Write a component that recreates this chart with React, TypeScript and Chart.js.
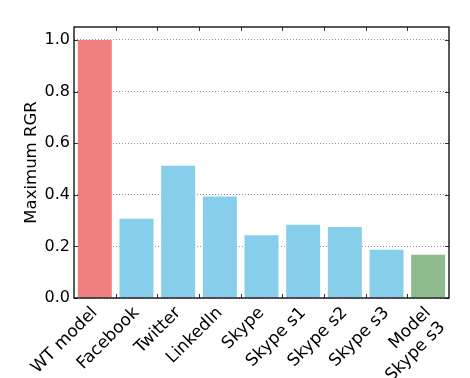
import React, { useEffect, useRef } from "react";
import { Chart, registerables } from "chart.js";

Chart.register(...registerables);

const categories: (string | string[])[] = [
  "WT model",
  "Facebook",
  "Twitter",
  "LinkedIn",
  "Skype",
  "Skype s1",
  "Skype s2",
  "Skype s3",
  ["Model", "Skype s3"],
];
const values = [1.0, 0.307, 0.512, 0.393, 0.243, 0.284, 0.275, 0.187, 0.168];
const barColors = [
  "#F08080",
  "#87CEEB",
  "#87CEEB",
  "#87CEEB",
  "#87CEEB",
  "#87CEEB",
  "#87CEEB",
  "#87CEEB",
  "#8FBC8F",
];
const yTicks = [0, 0.2, 0.4, 0.6, 0.8, 1.0];
const yMax = 1.05;
const yTitle = "Maximum RGR";

const FONT = "'DejaVu Sans', sans-serif";

const boxPlugin = {
  id: "boxPlugin",
  afterDraw(chart: any) {
    const { ctx, chartArea } = chart;
    const { left, right, top, bottom } = chartArea;
    const xs = chart.scales.x;
    const ys = chart.scales.y;
    ctx.save();
    ctx.strokeStyle = "#333";
    ctx.lineWidth = 1;
    const L = 4;
    ctx.beginPath();
    for (let i = 0; i < categories.length - 1; i++) {
      const px = Math.round((xs.getPixelForValue(i) + xs.getPixelForValue(i + 1)) / 2) + 0.5;
      ctx.moveTo(px, bottom);
      ctx.lineTo(px, bottom - L);
      ctx.moveTo(px, top);
      ctx.lineTo(px, top + L);
    }
    for (const t of yTicks) {
      const py = Math.round(ys.getPixelForValue(t)) + 0.5;
      ctx.moveTo(left, py);
      ctx.lineTo(left + L, py);
      ctx.moveTo(right, py);
      ctx.lineTo(right - L, py);
    }
    ctx.stroke();
    ctx.strokeStyle = "#000";
    ctx.lineWidth = 1.3;
    ctx.strokeRect(left, top, right - left, bottom - top);
    ctx.restore();
  },
};

export default function App() {
  const ref = useRef<HTMLCanvasElement | null>(null);
  useEffect(() => {
    document.body.style.margin = "0";
    if (!ref.current) return;
    const chart = new Chart(ref.current, {
      type: "bar",
      data: {
        labels: categories,
        datasets: [
          {
            data: values,
            backgroundColor: barColors,
            borderWidth: 0,
            barPercentage: 0.815,
            categoryPercentage: 1,
          },
        ],
      },
      options: {
        animation: false,
        responsive: false,
        maintainAspectRatio: false,
        layout: { padding: { top: 27, right: 21, left: 0, bottom: 0 } },
        plugins: { legend: { display: false }, tooltip: { enabled: false } },
        scales: {
          x: {
            type: "category",
            offset: true,
            grid: { display: false, drawTicks: false },
            border: { display: false },
            ticks: {
              minRotation: 45,
              maxRotation: 45,
              autoSkip: false,
              padding: 5,
              color: "#000",
              font: { family: FONT, size: 17 },
            },
            afterFit(scale: any) {
              scale.height = 80;
            },
          },
          y: {
            min: 0,
            max: yMax,
            afterBuildTicks(scale: any) {
              scale.ticks = yTicks.map((v) => ({ value: v }));
            },
            grid: {
              color: "#777",
              lineWidth: 0.8,
              drawTicks: false,
            },
            border: { display: false, dash: [1, 2] },
            ticks: {
              padding: 4,
              color: "#000",
              font: { family: FONT, size: 16 },
              callback: (v: any) => Number(v).toFixed(1),
            },
            title: {
              display: true,
              text: yTitle,
              color: "#000",
              font: { family: FONT, size: 16.5 },
              padding: { top: 22, bottom: 0 },
            },
            afterFit(scale: any) {
              scale.width = 74;
            },
          },
        },
      },
      plugins: [boxPlugin],
    } as any);
    return () => chart.destroy();
  }, []);
  return (
    <div style={{ width: 470, height: 378, background: "#fff" }}>
      <canvas ref={ref} width={470} height={378} />
    </div>
  );
}
